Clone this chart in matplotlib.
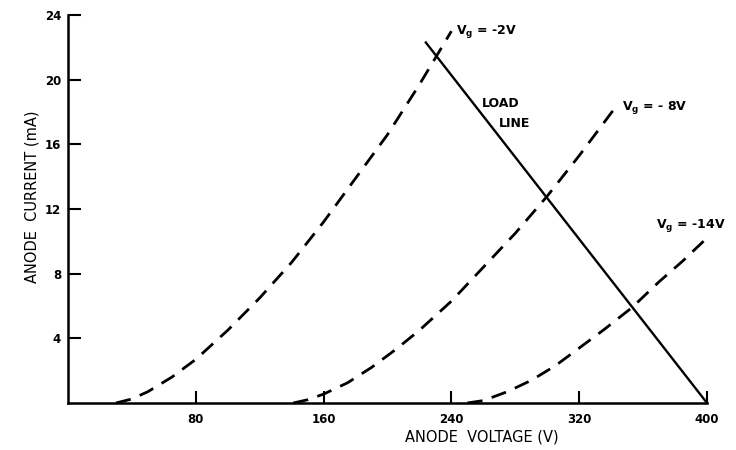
import matplotlib
matplotlib.use('Agg')
import matplotlib.pyplot as plt

# triode anode characteristics (V, mA)
va_2 = [30, 40, 50, 65, 80, 100, 120, 140, 160, 180, 200, 220, 240]
ia_2 = [0, 0.25, 0.7, 1.6, 2.7, 4.5, 6.5, 8.7, 11.2, 13.9, 16.6, 19.7, 23.0]

va_8 = [141, 150, 160, 175, 190, 205, 220, 240, 260, 280, 300, 320, 342]
ia_8 = [0, 0.2, 0.55, 1.25, 2.2, 3.3, 4.5, 6.3, 8.4, 10.5, 12.8, 15.3, 18.2]

va_14 = [250, 260, 275, 290, 305, 320, 335, 353, 370, 385, 402]
ia_14 = [0, 0.15, 0.7, 1.4, 2.3, 3.4, 4.5, 5.9, 7.5, 8.8, 10.4]

# load line end points
load_v = [224, 400]
load_i = [22.3, 0]

x_ticks = [80, 160, 240, 320, 400]
y_ticks = [4, 8, 12, 16, 20, 24]

plt.rcParams['font.family'] = ['DejaVu Sans']

fig = plt.figure(figsize=(7.36, 4.5), dpi=100)
ax = fig.add_axes([68/736, 1-403/450, (707-68)/736, (403-15)/450])
ax.set_xlim(0, 400)
ax.set_ylim(0, 24)

dash_kw = dict(color='black', lw=2.0, dashes=(5.5, 3.5), clip_on=False)
ax.plot(va_2, ia_2, **dash_kw)
ax.plot(va_8, ia_8, **dash_kw)
ax.plot(va_14, ia_14, **dash_kw)
ax.plot(load_v, load_i, color='black', lw=1.7, clip_on=False)

for s in ['top', 'right']:
    ax.spines[s].set_visible(False)
for s in ['left', 'bottom']:
    ax.spines[s].set_linewidth(1.8)

ax.set_xticks(x_ticks)
ax.set_yticks(y_ticks)
ax.tick_params(direction='in', length=9, width=1.5, labelsize=8.5)
ax.tick_params(axis='x', pad=7)
ax.tick_params(axis='y', pad=5)
for lab in ax.get_xticklabels() + ax.get_yticklabels():
    lab.set_fontweight('bold')

lbl = dict(fontsize=9, fontweight='bold', va='center', ha='left')
ax.text(243, 23.0, 'V$_\\mathregular{g}$ = -2V', **lbl)
ax.text(347, 18.3, 'V$_\\mathregular{g}$ = - 8V', **lbl)
ax.text(368, 11.0, 'V$_\\mathregular{g}$ = -14V', **lbl)
ax.text(259, 18.5, 'LOAD', **lbl)
ax.text(270, 17.3, 'LINE', **lbl)

fig.text(482/736, 1-437/450, 'ANODE  VOLTAGE (V)', ha='center', va='center',
         fontsize=10.5)
fig.text(32/736, 1-197/450, 'ANODE  CURRENT (mA)', ha='center', va='center',
         rotation=90, fontsize=10.5)

fig.savefig('out.png', dpi=100)
